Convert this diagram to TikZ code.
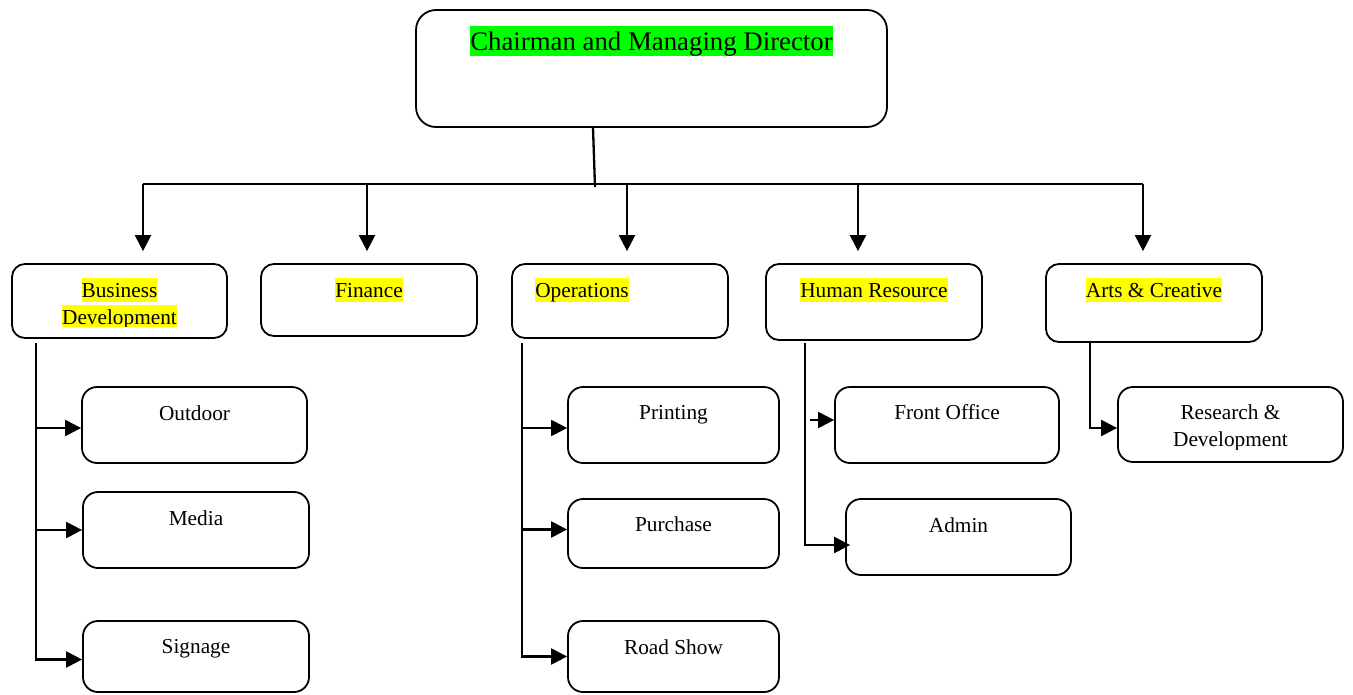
\documentclass[tikz,border=0pt]{standalone}
\usepackage{fontspec}
\setmainfont{Liberation Serif}
\usetikzlibrary{arrows.meta,calc}
\definecolor{hlgreen}{RGB}{0,255,0}
\definecolor{hlyellow}{RGB}{255,255,0}
\tikzstyle{head} = [rectangle, rounded corners=20pt, draw=black, line width=1.8pt]
\tikzstyle{unit} = [rectangle, rounded corners=13pt, draw=black, line width=1.8pt]
\tikzstyle{subunit} = [rectangle, rounded corners=15pt, draw=black, line width=1.8pt]
\tikzstyle{hlhead} = [fill=hlgreen, inner sep=0pt, text height=24pt, text depth=6pt, font=\fontsize{26.8pt}{31pt}\selectfont]
\tikzstyle{hltext} = [fill=hlyellow, inner sep=0pt, text height=19pt, text depth=4.6pt, font=\fontsize{21.3pt}{25pt}\selectfont]
\tikzstyle{subtext} = [inner sep=0pt, font=\fontsize{21.3pt}{25pt}\selectfont]
\tikzstyle{link} = [line width=2.3pt]
\tikzstyle{arrow} = [line width=2.3pt, -{Triangle[length=16pt,width=16pt]}]

\begin{document}
\begin{tikzpicture}[x=1pt,y=-1pt]
	\useasboundingbox (0,0) rectangle (1353,694);

	%% Top box
	\node[head, minimum width=471pt, minimum height=117pt] (chair) at (651.5,68.5) {};
	\node[hlhead, anchor=base] (chair-t) at ([yshift=-41pt]chair.north) {Chairman and Managing Director};

	%% Departments
	\node[unit, minimum width=215pt, minimum height=74pt] (bd) at (119.5,301) {};
	\node[unit, minimum width=216pt, minimum height=72pt] (fin) at (369,300) {};
	\node[unit, minimum width=216pt, minimum height=74pt] (ops) at (620,301) {};
	\node[unit, minimum width=216pt, minimum height=76pt] (hr) at (874,302) {};
	\node[unit, minimum width=216pt, minimum height=78pt] (art) at (1154,303) {};

	\node[hltext, anchor=base] (bd-t1) at ([yshift=-34pt]bd.north) {Business};
	\begin{scope}
	  \clip (0,0) rectangle (1353,326); % text runs out of the box
	  \node[hltext, anchor=base] (bd-t2) at ([yshift=-61pt]bd.north) {Development};
	\end{scope}
	\node[hltext, anchor=base] (fin-t) at ([yshift=-34pt]fin.north) {Finance};
	\node[hltext, anchor=base west] (ops-t) at ([xshift=24pt,yshift=-34pt]ops.north west) {Operations};
	\node[hltext, anchor=base] (hr-t) at ([yshift=-34pt]hr.north) {Human Resource};
	\node[hltext, anchor=base] (art-t) at ([yshift=-34pt]art.north) {Arts \& Creative};

	%% Sub units
	\node[subunit, minimum width=225pt, minimum height=76pt] (out) at (194.5,425) {};
	\node[subunit, minimum width=226pt, minimum height=76pt] (med) at (196,530) {};
	\node[subunit, minimum width=226pt, minimum height=71pt] (sig) at (196,656.5) {};
	\node[subunit, minimum width=211pt, minimum height=76pt] (prt) at (673.5,425) {};
	\node[subunit, minimum width=211pt, minimum height=69pt] (pur) at (673.5,533.5) {};
	\node[subunit, minimum width=211pt, minimum height=71pt] (rs) at (673.5,656.5) {};
	\node[subunit, minimum width=224pt, minimum height=76pt] (fo) at (947,425) {};
	\node[subunit, minimum width=225pt, minimum height=76pt] (adm) at (958.5,537) {};
	\node[subunit, minimum width=225pt, minimum height=75pt] (rd) at (1230.5,424.5) {};

	\node[subtext, anchor=base] (out-t) at ([yshift=-34pt]out.north) {Outdoor};
	\node[subtext, anchor=base] (med-t) at ([yshift=-34pt]med.north) {Media};
	\node[subtext, anchor=base] (sig-t) at ([yshift=-33pt]sig.north) {Signage};
	\node[subtext, anchor=base] (prt-t) at ([yshift=-33pt]prt.north) {Printing};
	\node[subtext, anchor=base] (pur-t) at ([yshift=-33pt]pur.north) {Purchase};
	\node[subtext, anchor=base] (rs-t) at ([yshift=-34pt]rs.north) {Road Show};
	\node[subtext, anchor=base] (fo-t) at ([yshift=-33pt]fo.north) {Front Office};
	\node[subtext, anchor=base] (adm-t) at ([yshift=-34pt]adm.north) {Admin};
	\node[subtext, anchor=base] (rd-t1) at ([yshift=-33pt]rd.north) {Research \&};
	\begin{scope}
	  \clip (0,0) rectangle (1353,449);
	  \node[subtext, anchor=base] (rd-t2) at ([yshift=-60pt]rd.north) {Development};
	\end{scope}

	%% Top level lines
	\coordinate (hub) at (595,187);
	\coordinate (bus-l) at (143,184);
	\coordinate (bus-r) at (1143,184);
	\draw[link] ([xshift=-58.5pt]chair.south) -- (hub);
	\draw[link] (bus-l) -- (bus-r);
	\foreach \x/\n in {143/bd,367/fin,627/ops,858/hr,1143/art}
	{
	  \coordinate (b-\n) at (\x,184);
	  \draw[arrow, shorten >=12pt] (b-\n) -- (b-\n |- \n.north);
	}

	%% Business Development
	\coordinate (bd-s) at (36,343);
	\draw[arrow] (bd-s) |- ([yshift=-3pt]sig.west);
	\draw[arrow] ([yshift=-3pt]bd-s |- out.west) -- ([yshift=-3pt]out.west);
	\draw[arrow] (bd-s |- med.west) -- (med.west);

	%% Operations
	\coordinate (ops-s) at (522,343);
	\draw[arrow] (ops-s) |- (rs.west);
	\draw[arrow] ([yshift=-3pt]ops-s |- prt.west) -- ([yshift=-3pt]prt.west);
	\draw[arrow] ([yshift=4pt]ops-s |- pur.west) -- ([yshift=4pt]pur.west);

	%% Human Resource
	\coordinate (hr-s) at (805,343);
	\draw[link] (hr-s) |- ([yshift=-8pt,xshift=-10pt]adm.west);
	\draw[arrow] ([yshift=-8pt,xshift=-10pt]adm.west) -- ([yshift=-8pt,xshift=5pt]adm.west);
	\draw[arrow] ([xshift=-24pt,yshift=5pt]fo.west) -- ([yshift=5pt]fo.west);

	%% Arts & Creative
	\coordinate (art-s) at (1090,342);
	\draw[arrow] (art-s) |- ([yshift=-3.5pt]rd.west);
\end{tikzpicture}
\end{document}
